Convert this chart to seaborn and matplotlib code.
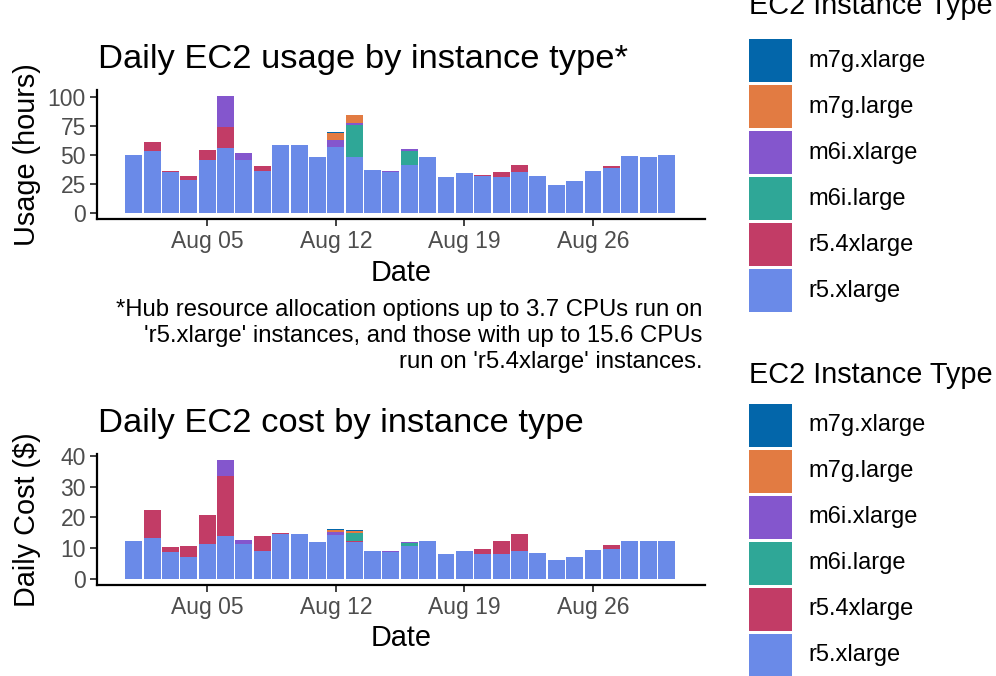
import numpy as np
import pandas as pd
import matplotlib
matplotlib.use("Agg")
import matplotlib.pyplot as plt
from matplotlib.patches import Rectangle
import seaborn as sns

# ---------------- data ----------------
days = list(range(1, 31))  # August 1..30
types = ["m7g.xlarge", "m7g.large", "m6i.xlarge", "m6i.large", "r5.4xlarge", "r5.xlarge"]
colors = ["#0366AA", "#E27B42", "#8456CD", "#2FA797", "#C23C66", "#6A8AE8"]

tick_days = [5, 12, 19, 26]
tick_labels = ["Aug 05", "Aug 12", "Aug 19", "Aug 26"]

usage_r5_xlarge = [50.0, 53.0, 35.5, 28.6, 45.6, 55.8, 45.6, 36.2, 58.3, 58.3,
                   48.2, 56.6, 48.2, 37.1, 35.4, 41.3, 48.2, 31.1, 34.5, 32.0,
                   31.1, 35.4, 32.0, 24.4, 27.8, 36.2, 38.8, 49.0, 48.2, 49.9]
usage_r5_4xlarge = [0, 8.5, 1.0, 3.4, 8.5, 18.4, 0, 4.3, 0, 0,
                    0, 0, 0, 0, 0, 0, 0, 0, 0, 0.9,
                    4.3, 6.0, 0, 0, 0, 0, 1.7, 0, 0, 0]
usage_m6i_large = [0, 0, 0, 0, 0, 0, 0, 0, 0, 0,
                   0, 0, 27.2, 0, 0, 11.9, 0, 0, 0, 0,
                   0, 0, 0, 0, 0, 0, 0, 0, 0, 0]
usage_m6i_xlarge = [0, 0, 0, 0, 0, 26.6, 6.0, 0, 0, 0,
                    0, 6.0, 1.7, 0, 1.0, 1.7, 0, 0, 0, 0,
                    0, 0, 0, 0, 0, 0, 0, 0, 0, 0]
usage_m7g_large = [0, 0, 0, 0, 0, 0, 0, 0, 0, 0,
                   0, 6.0, 6.8, 0, 0, 0, 0, 0, 0, 0,
                   0, 0, 0, 0, 0, 0, 0, 0, 0, 0]
usage_m7g_xlarge = [0, 0, 0, 0, 0, 0, 0, 0, 0, 0,
                    0, 0.9, 0.8, 0, 0, 0, 0, 0, 0, 0,
                    0, 0, 0, 0, 0, 0, 0, 0, 0, 0]

cost_r5_xlarge = [12.4, 13.4, 8.9, 7.2, 11.5, 14.1, 11.5, 9.2, 14.7, 14.7,
                  12.1, 14.4, 12.1, 9.2, 8.9, 10.6, 12.2, 8.0, 9.0, 8.0,
                  8.0, 9.0, 8.3, 6.1, 7.0, 9.3, 9.9, 12.5, 12.2, 12.5]
cost_r5_4xlarge = [0, 9.1, 1.6, 3.6, 9.4, 19.4, 0, 4.9, 0.3, 0,
                   0, 0, 0.2, 0, 0, 0, 0, 0, 0, 1.6,
                   4.2, 5.5, 0, 0, 0, 0, 1.3, 0, 0, 0]
cost_m6i_large = [0, 0, 0, 0, 0, 0, 0, 0, 0, 0,
                  0, 0, 2.6, 0, 0, 1.0, 0, 0, 0, 0,
                  0, 0, 0, 0, 0, 0, 0, 0, 0, 0]
cost_m6i_xlarge = [0, 0, 0, 0, 0, 5.2, 1.3, 0, 0, 0,
                   0, 1.0, 0.2, 0, 0.3, 0.3, 0, 0, 0, 0,
                   0, 0, 0, 0, 0, 0, 0, 0, 0, 0]
cost_m7g_large = [0, 0, 0, 0, 0, 0, 0, 0, 0, 0,
                  0, 0.6, 0.4, 0, 0, 0, 0, 0, 0, 0,
                  0, 0, 0, 0, 0, 0, 0, 0, 0, 0]
cost_m7g_xlarge = [0, 0, 0, 0, 0, 0, 0, 0, 0, 0,
                   0, 0.3, 0.3, 0, 0, 0, 0, 0, 0, 0,
                   0, 0, 0, 0, 0, 0, 0, 0, 0, 0]

caption = ("*Hub resource allocation options up to 3.7 CPUs run on\n"
           "'r5.xlarge' instances, and those with up to 15.6 CPUs\n"
           "run on 'r5.4xlarge' instances.")


def long_frame(series):
    rows = []
    for t, vals in zip(types, series):
        for d, v in zip(days, vals):
            rows.append({"day": d, "type": t, "value": v})
    return pd.DataFrame(rows)


usage_df = long_frame([usage_m7g_xlarge, usage_m7g_large, usage_m6i_xlarge,
                       usage_m6i_large, usage_r5_4xlarge, usage_r5_xlarge])
cost_df = long_frame([cost_m7g_xlarge, cost_m7g_large, cost_m6i_xlarge,
                      cost_m6i_large, cost_r5_4xlarge, cost_r5_xlarge])

# ---------------- style ----------------
sns.set_theme(style="white")
plt.rcParams["font.family"] = ["Liberation Sans", "DejaVu Sans"]
plt.rcParams["text.color"] = "black"

W, H = 996, 676
fig = plt.figure(figsize=(W / 100, H / 100), dpi=100)
palette = dict(zip(types, colors))


def fx(px):
    return px / W


def fy(py):
    return 1 - py / H


def make_axes(top, bottom):
    return fig.add_axes([fx(97), fy(bottom), fx(705) - fx(97), fy(top) - fy(bottom)])


ax1 = make_axes(90, 219)
ax2 = make_axes(454, 585)

for ax, df in ((ax1, usage_df), (ax2, cost_df)):
    sns.histplot(data=df, x="day", weights="value", hue="type", hue_order=types,
                 multiple="stack", discrete=True, shrink=0.92, palette=palette,
                 alpha=1, linewidth=0, edgecolor="none", legend=False, ax=ax)
    ax.set_xlim(-1.0, 32.1)
    ax.set_xticks(tick_days)
    ax.set_xticklabels(tick_labels)
    ax.set_xlabel("")
    ax.set_ylabel("")
    for s in ("top", "right"):
        ax.spines[s].set_visible(False)
    for s in ("left", "bottom"):
        ax.spines[s].set_color("black")
        ax.spines[s].set_linewidth(1.6)
    ax.tick_params(axis="both", which="both", direction="out", length=5, width=1.3,
                   color="#333333", labelcolor="#4D4D4D", labelsize=16.5, pad=3,
                   bottom=True, left=True)
    ax.grid(False)

ax1.set_ylim(-5.0, 105.8)
ax1.set_yticks([0, 25, 50, 75, 100])
ax2.set_ylim(-1.94, 40.6)
ax2.set_yticks([0, 10, 20, 30, 40])

# titles
fig.text(fx(98), fy(68), "Daily EC2 usage by instance type*", fontsize=24.8,
         ha="left", va="baseline", color="black")
fig.text(fx(98), fy(432), "Daily EC2 cost by instance type", fontsize=24.8,
         ha="left", va="baseline", color="black")

# axis titles
fig.text(fx(401), fy(273), "Date", fontsize=20.8, ha="center", va="center", color="black")
fig.text(fx(401), fy(638), "Date", fontsize=20.8, ha="center", va="center", color="black")
fig.text(fx(27), fy(155), "Usage (hours)", fontsize=20.8, rotation=90,
         ha="center", va="center", color="black")
fig.text(fx(27), fy(520), "Daily Cost ($)", fontsize=20.8, rotation=90,
         ha="center", va="center", color="black")

# caption
fig.text(fx(702), fy(336), caption, fontsize=17.2, ha="right", va="center",
         multialignment="right", linespacing=1.23, color="black")


# legends
def draw_legend(title_y, key_top):
    fig.text(fx(749), fy(title_y), "EC2 Instance Type", fontsize=20.8,
             ha="left", va="center", color="black")
    for i, (t, c) in enumerate(zip(types, colors)):
        y0 = key_top + i * 46
        fig.add_artist(Rectangle((fx(749), fy(y0 + 43)), fx(43), 43 / H,
                                 transform=fig.transFigure, facecolor=c,
                                 edgecolor="none"))
        fig.text(fx(808), fy(y0 + 21.5), t, fontsize=17, ha="left", va="center",
                 color="black")


draw_legend(6, 39)
draw_legend(375, 404)

fig.savefig("out.png", dpi=100)
